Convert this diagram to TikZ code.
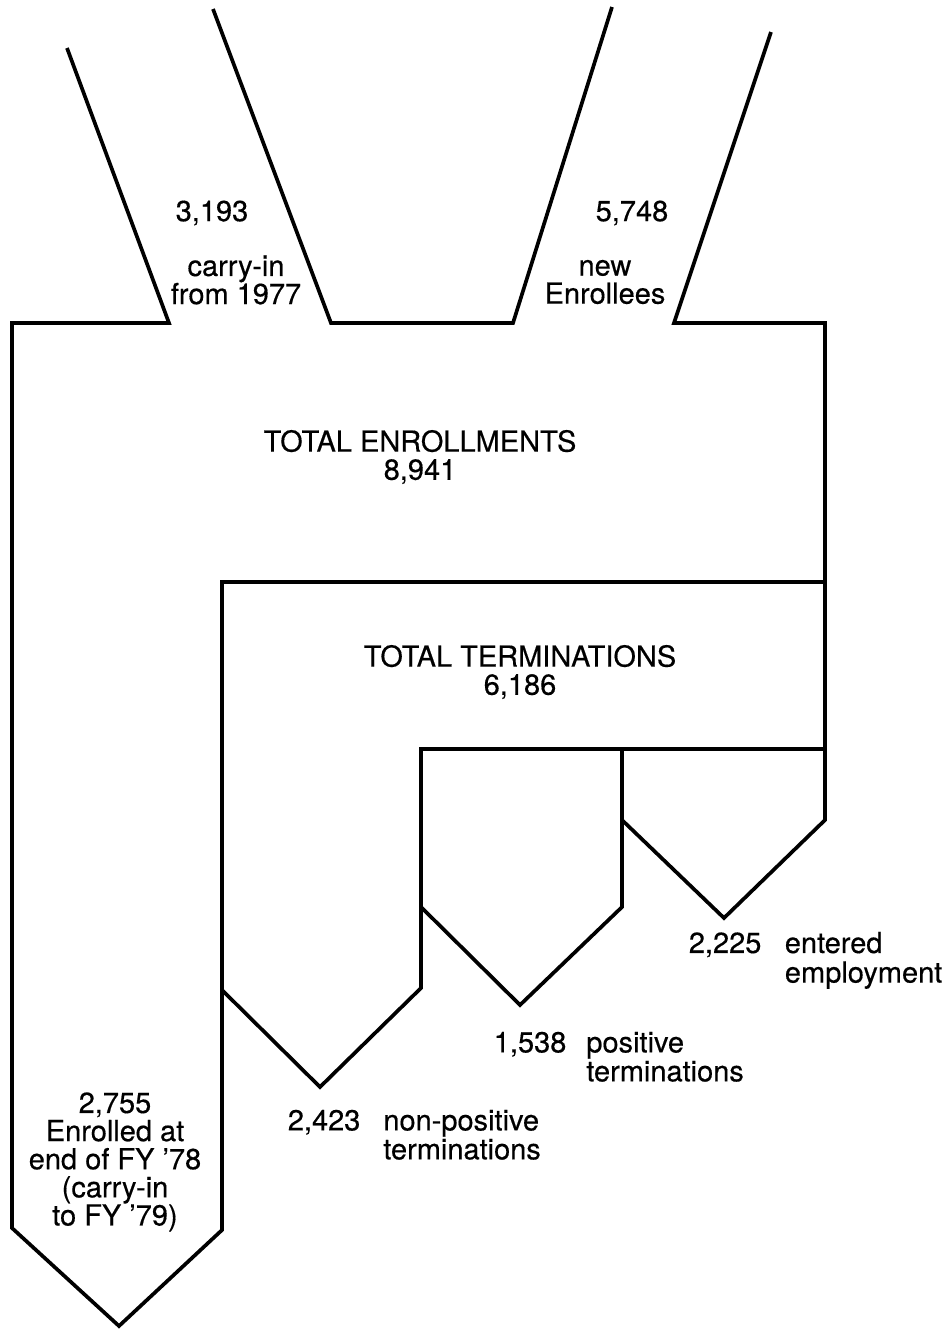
\documentclass[tikz,border=0pt]{standalone}
\usepackage{fontspec}
\setmainfont[FakeBold=0.4]{TeX Gyre Heros}
\begin{document}
\begin{tikzpicture}[x=0.02cm, y=-0.02cm, line width=2.1pt, font=\fontsize{16.5}{16}\selectfont,
	lbl/.style={align=center, inner sep=0pt},
	side/.style={anchor=north west, inner sep=0pt}]
	\useasboundingbox (0,0) rectangle (948,1329);
	% inflow and enrollments
	\draw (67,48)--(169,323)--(12,323)--(12,1228)--(119,1326)--(222,1230)--(222,582)--(825,582)--(825,323)--(674,323)--(771,32);
	\draw (213,9)--(331,323)--(513,323)--(612,7);
	% terminations
	\draw (825,582)--(825,820)--(724,918)--(622,820);
	\draw (825,749)--(421,749)--(421,988)--(320,1087)--(222,990);
	\draw (622,749)--(622,907)--(520,1005)--(421,907);
	\node[lbl] (carrynum) at (212,213) {3,193};
	\node[lbl] (carry) at (236,280) {carry-in\\from 1977};
	\node[lbl] (newnum) at (632,213) {5,748};
	\node[lbl] (new) at (605,282) {new\\Enrollees};
	\node[lbl] (enroll) at (420,457) {TOTAL ENROLLMENTS\\8,941};
	\node[lbl] (term) at (520,672) {TOTAL TERMINATIONS\\6,186};
	\node[lbl] (endfy) at (115,1162) {2,755\\Enrolled at\\end of FY '78\\(carry-in\\to FY '79)};
	\node[side] (emp) at (687,930) {\begin{tabular}{@{}l@{\hspace{0.47cm}}l@{}}2,225 & entered\\ & employment\end{tabular}};
	\node[side] (pos) at (492,1030) {\begin{tabular}{@{}l@{\hspace{0.4cm}}l@{}}1,538 & positive\\ & terminations\end{tabular}};
	\node[side] (nonpos) at (286,1108) {\begin{tabular}{@{}l@{\hspace{0.46cm}}l@{}}2,423 & non-positive\\ & terminations\end{tabular}};
\end{tikzpicture}
\end{document}
